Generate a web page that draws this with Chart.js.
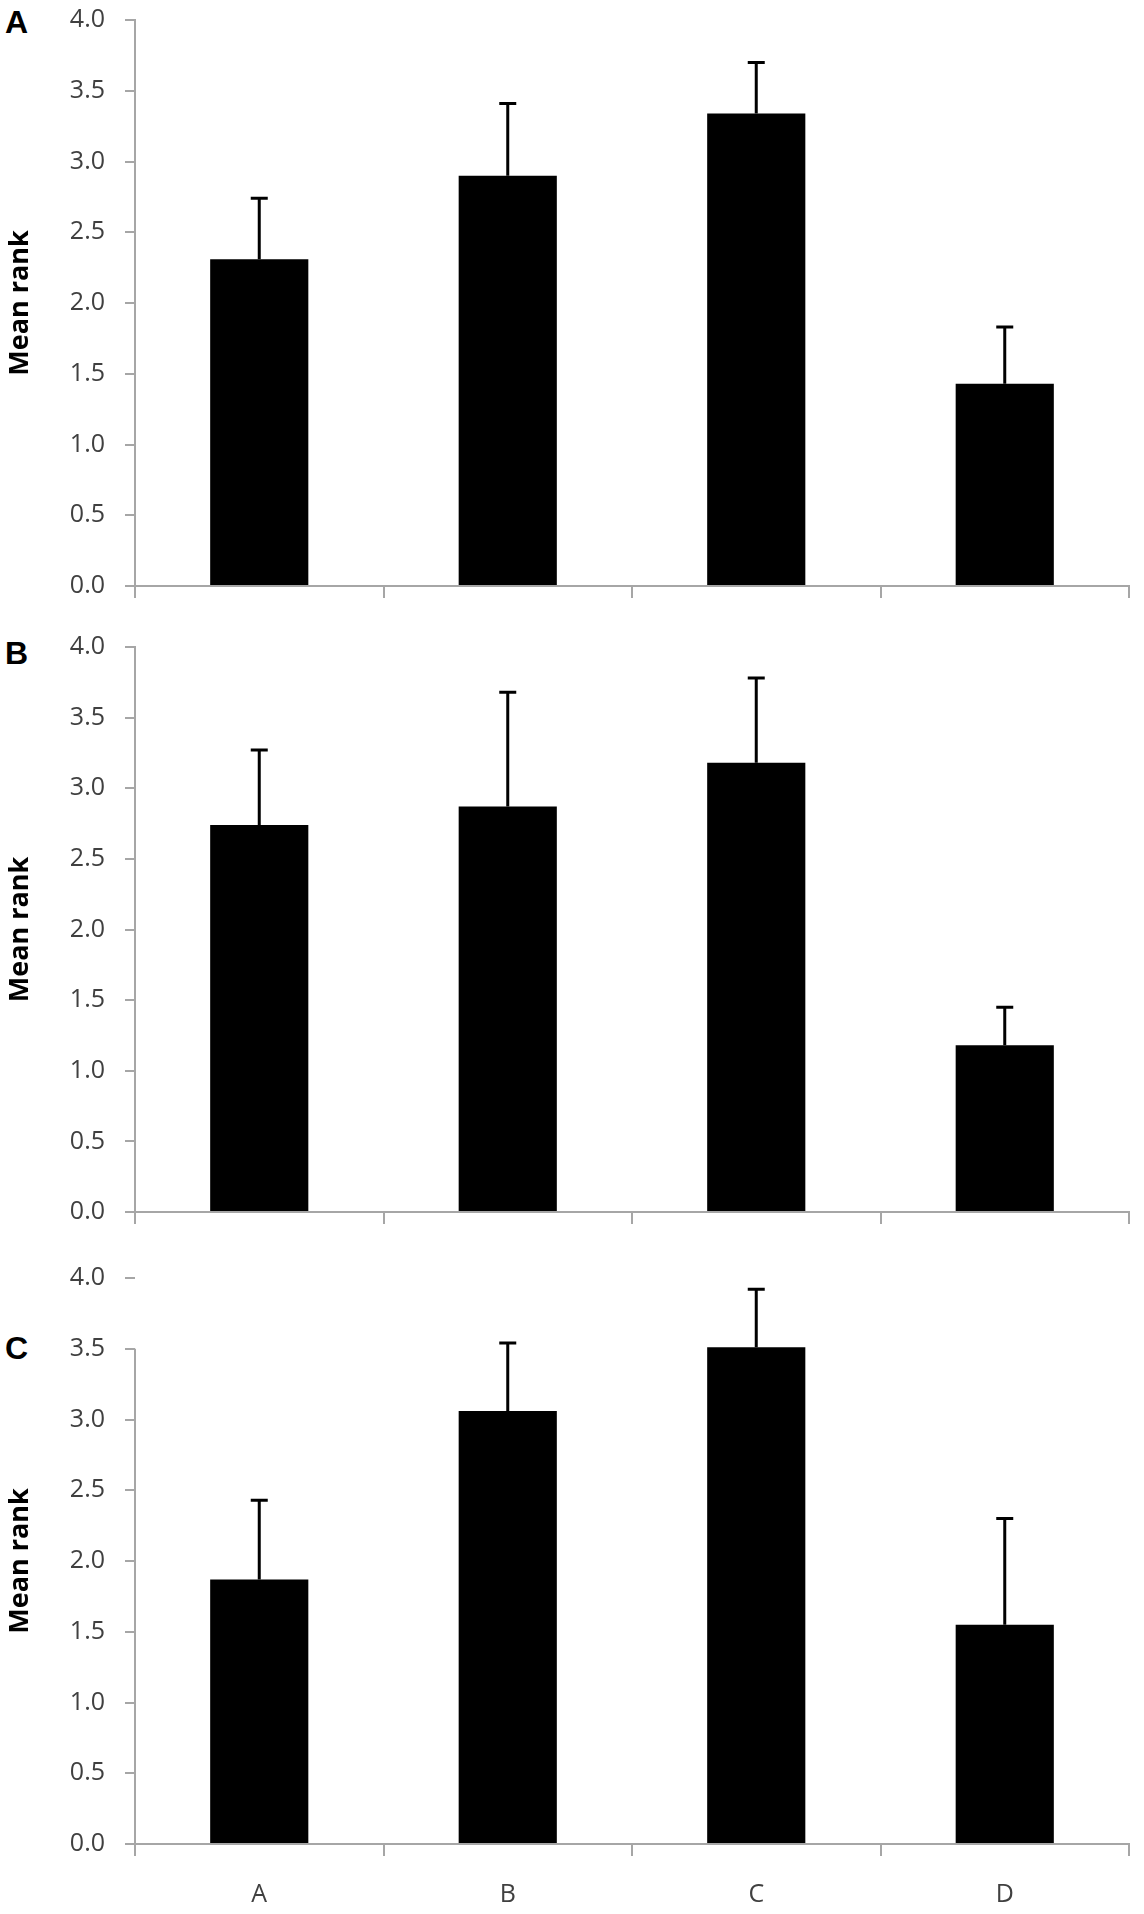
<!DOCTYPE html>
<html lang="en">
<head>
    <meta charset="UTF-8">
    <title>Mean rank</title>
    <script src="https://cdn.jsdelivr.net/npm/chart.js"></script>
    <style>
        body {
            margin: 0;
            background: white;
            width: 1144px;
            height: 1914px;
            position: relative;
            overflow: hidden;
        }
        canvas {
            position: absolute;
            left: 0;
        }
        .panel-letter {
            position: absolute;
            left: 5px;
            font-family: 'Liberation Sans', Arial, sans-serif;
            font-weight: bold;
            font-size: 32px;
            line-height: 32px;
            color: black;
        }
    </style>
</head>
<body>
    <div class="panel-letter" style="top: 6px;">A</div>
    <div class="panel-letter" style="top: 637px;">B</div>
    <div class="panel-letter" style="top: 1332px;">C</div>

    <canvas id="chartA" width="1144" height="620" style="top: 0px;"></canvas>
    <canvas id="chartB" width="1144" height="620" style="top: 625px;"></canvas>
    <canvas id="chartC" width="1144" height="664" style="top: 1250px;"></canvas>

    <script>
        const categories = ['A', 'B', 'C', 'D'];

        // bar heights (mean rank) and upper error amounts, per panel
        const meansA = [2.31, 2.90, 3.34, 1.43];
        const errorsA = [0.43, 0.51, 0.36, 0.40];
        const meansB = [2.74, 2.87, 3.18, 1.18];
        const errorsB = [0.53, 0.81, 0.60, 0.27];
        const meansC = [1.87, 3.06, 3.51, 1.55];
        const errorsC = [0.56, 0.48, 0.41, 0.75];

        const yMin = 0;
        const yMax = 4;
        const yStep = 0.5;

        const axisGray = '#a6a6a6';
        const labelGray = '#404040';

        Chart.defaults.font.family = "'Open Sans', sans-serif";

        // draws the upward error bars and (optionally) a shortened y axis line
        const errorBarPlugin = {
            id: 'errorBars',
            afterDatasetsDraw(chart, args, opts) {
                const ctx = chart.ctx;
                const yScale = chart.scales.y;
                const meta = chart.getDatasetMeta(0);
                const means = chart.data.datasets[0].data;
                ctx.save();
                ctx.strokeStyle = 'black';
                ctx.lineWidth = 3;
                meta.data.forEach((bar, i) => {
                    const yBase = yScale.getPixelForValue(means[i]);
                    const yTop = yScale.getPixelForValue(means[i] + opts.errors[i]);
                    ctx.beginPath();
                    ctx.moveTo(bar.x, yBase);
                    ctx.lineTo(bar.x, yTop);
                    ctx.moveTo(bar.x - 8.5, yTop);
                    ctx.lineTo(bar.x + 8.5, yTop);
                    ctx.stroke();
                });
                if (opts.axisTop !== undefined) {
                    const left = chart.chartArea.left;
                    ctx.strokeStyle = axisGray;
                    ctx.lineWidth = 2;
                    ctx.beginPath();
                    ctx.moveTo(left, yScale.getPixelForValue(opts.axisTop));
                    ctx.lineTo(left, chart.chartArea.bottom);
                    ctx.stroke();
                }
                ctx.restore();
            }
        };

        function makeChart(id, means, errors, topPad, xHeight, showLabels, axisTop) {
            const ctx = document.getElementById(id).getContext('2d');
            return new Chart(ctx, {
                type: 'bar',
                data: {
                    labels: categories,
                    datasets: [{
                        data: means,
                        backgroundColor: 'black',
                        borderWidth: 0,
                        categoryPercentage: 1.0,
                        barPercentage: 0.395
                    }]
                },
                plugins: [errorBarPlugin],
                options: {
                    responsive: false,
                    animation: false,
                    layout: {
                        padding: { top: topPad, right: 15, left: 0, bottom: 0 }
                    },
                    plugins: {
                        legend: { display: false },
                        tooltip: { enabled: false },
                        errorBars: { errors: errors, axisTop: axisTop }
                    },
                    scales: {
                        x: {
                            afterFit: (scale) => { scale.height = xHeight; },
                            grid: {
                                offset: true,
                                drawOnChartArea: false,
                                drawTicks: true,
                                tickLength: 12,
                                color: axisGray,
                                lineWidth: 2
                            },
                            border: { display: true, color: axisGray, width: 2 },
                            ticks: {
                                display: showLabels,
                                color: labelGray,
                                padding: 24,
                                font: { size: 25 }
                            }
                        },
                        y: {
                            min: yMin,
                            max: yMax,
                            afterFit: (scale) => {
                                scale.width = 135;
                                scale.paddingTop = 0;
                                scale.paddingBottom = 0;
                            },
                            grid: {
                                drawOnChartArea: false,
                                drawTicks: true,
                                tickLength: 10,
                                color: axisGray,
                                lineWidth: 2
                            },
                            border: { display: axisTop === undefined, color: axisGray, width: 2 },
                            ticks: {
                                stepSize: yStep,
                                color: labelGray,
                                padding: 20,
                                font: { size: 25 },
                                callback: (v) => v.toFixed(1)
                            },
                            title: {
                                display: true,
                                text: 'Mean rank',
                                color: 'black',
                                padding: { top: 4, bottom: 0 },
                                font: { size: 27, weight: 'bold' }
                            }
                        }
                    }
                }
            });
        }

        makeChart('chartA', meansA, errorsA, 20, 34, false);
        makeChart('chartB', meansB, errorsB, 22, 33, false);
        makeChart('chartC', meansC, errorsC, 28, 70, true, 3.5);
    </script>
</body>
</html>
